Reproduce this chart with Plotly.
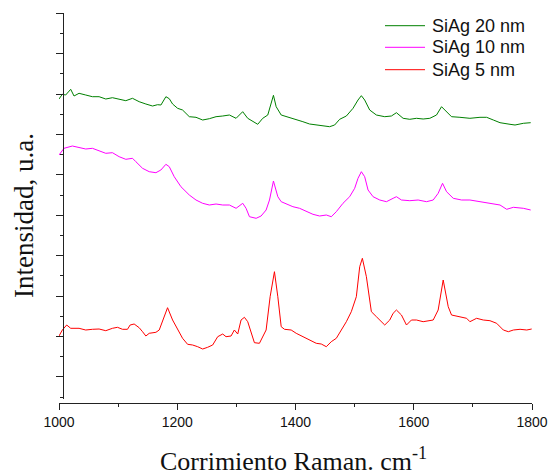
import plotly.graph_objects as go

# Raman shift (cm^-1) and intensity (a.u.)
x_20nm = [1000, 1005.6, 1011.3, 1015.8, 1019.8, 1025.4, 1033.9, 1045.2, 1056.5, 1067.8,
          1079.1, 1090.4, 1101.7, 1113, 1124.3, 1135.6, 1146.9, 1158.2, 1166.7, 1172.4,
          1180.8, 1186.5, 1192.1, 1200.6, 1209, 1220.4, 1231.7, 1243, 1254.3, 1265.6,
          1276.9, 1288.2, 1299.5, 1310.7, 1319.2, 1327.7, 1336.1, 1344.6, 1353.1, 1362.7,
          1367.3, 1375.8, 1389.9, 1401.2, 1412.5, 1423.8, 1435.1, 1446.4, 1457.7, 1466.2,
          1474.7, 1486, 1497.3, 1505.7, 1511.4, 1517, 1525.5, 1536.8, 1550.9, 1562.2,
          1570.7, 1582, 1593.3, 1604.6, 1615.9, 1627.2, 1638.5, 1647, 1655.5, 1663.9,
          1678.1, 1695, 1712, 1723.3, 1734.6, 1745.9, 1762.8, 1771.3, 1785.4, 1797.8]
y_20nm = [301, 305.7, 305, 308.3, 310.7, 304, 306.7, 305, 303.3, 303.3,
          301, 302.3, 301, 299.3, 301.7, 298.3, 296, 294, 295.3, 295,
          303.3, 301.3, 296, 291.7, 290, 283.3, 282.7, 280, 281.3, 283.3,
          284, 285, 281.7, 288.3, 281.7, 278.3, 275.7, 281.7, 285, 304.7,
          293.3, 285, 282.7, 280.7, 278.3, 276, 275, 274, 273.3, 275,
          280.7, 284, 291.7, 300, 304.3, 300, 290, 285, 283.3, 284,
          287.3, 281.7, 280.7, 281.7, 281, 281.7, 285, 293.3, 288.3, 283.3,
          282.7, 281.7, 282.7, 282.7, 280, 277.3, 275.7, 275, 276.7, 277.3]

x_10nm = [1000, 1008.5, 1022.6, 1033.9, 1045.2, 1056.5, 1067.8, 1079.1, 1090.4, 1101.7,
          1113, 1124.3, 1130, 1141.3, 1152.6, 1163.9, 1172.3, 1180.8, 1186.5, 1194.9,
          1206.2, 1220.4, 1231.7, 1243, 1254.3, 1265.6, 1276.9, 1288.2, 1299.5, 1305.1,
          1310.8, 1316.4, 1322.1, 1333.4, 1341.8, 1350.3, 1356, 1362.7, 1370.1, 1375.8,
          1384.3, 1395.6, 1406.9, 1418.2, 1429.5, 1440.8, 1452.1, 1460.5, 1469, 1480.3,
          1491.6, 1500.1, 1505.7, 1511.4, 1517, 1522.7, 1531.2, 1542.5, 1553.8, 1565.1,
          1570.7, 1579.2, 1593.3, 1607.4, 1621.6, 1632.9, 1641.3, 1648.7, 1655.5, 1666.8,
          1680.9, 1695, 1712, 1728.9, 1745.9, 1757.2, 1768.5, 1785.4, 1797.8]
y_10nm = [245, 251.7, 254, 252.7, 251, 251.7, 249.3, 246.7, 247.3, 243.3,
          240.7, 241.7, 238.3, 231.7, 228.3, 227.3, 230, 235.7, 233.3, 223.3,
          213.3, 205, 200, 196.7, 195, 196, 195, 195, 191.7, 194,
          196.7, 191.7, 183.3, 181.7, 184, 190, 200, 219, 203.3, 198.3,
          196, 193.3, 191.7, 188.3, 185.7, 184, 185, 183.3, 188.3, 196.7,
          203.3, 211.7, 221.7, 228.3, 223.3, 210, 203.3, 200, 198.3, 201.7,
          203.3, 200, 199.3, 200, 198.3, 200, 206.7, 216.7, 208.3, 201.7,
          200, 200, 198.3, 196.7, 195, 190.7, 192.7, 191.7, 190]

x_5nm = [1000, 1005.7, 1013, 1019.8, 1033.9, 1045.2, 1056.5, 1067.8, 1079.1, 1090.4,
         1098.9, 1107.4, 1115.8, 1120.3, 1127.1, 1135.6, 1141.3, 1146.9, 1152.6, 1163.9,
         1169.5, 1176.3, 1183.6, 1192.1, 1200.6, 1209, 1217.5, 1226, 1234.5, 1243,
         1251.4, 1259.9, 1268.4, 1276.9, 1282.5, 1291, 1296.6, 1302.3, 1307.9, 1313.6,
         1319.2, 1324.9, 1330.5, 1339, 1344.7, 1350.3, 1357.1, 1364.4, 1370.1, 1375.8,
         1381.4, 1392.7, 1401.2, 1412.5, 1423.8, 1435.1, 1443.6, 1452.1, 1460.5, 1469,
         1477.5, 1486, 1494.4, 1502.9, 1508.6, 1513.1, 1519.9, 1528.3, 1536.8, 1550.9,
         1559.4, 1565.1, 1570.7, 1579.2, 1587.7, 1596.1, 1604.6, 1615.9, 1632.9, 1641.3,
         1649.8, 1658.3, 1663.9, 1678.1, 1689.4, 1695, 1706.3, 1717.6, 1728.9, 1740.2,
         1751.5, 1760, 1768.5, 1779.8, 1791.1, 1799.5]
y_5nm = [64, 70, 75, 71.7, 71.7, 70, 70.7, 71, 69.3, 71.7,
         72.7, 70.7, 70.7, 75, 76, 72.3, 68.3, 64, 66.7, 67.7,
         70, 80, 92.3, 80, 70, 61.7, 55.7, 55, 53.3, 51,
         52.7, 55, 63.3, 66, 63.3, 64, 70, 66, 80, 82.7,
         78.3, 66.7, 57.3, 56.7, 62.7, 70, 103.3, 128.3, 103.3, 73.3,
         70.7, 70, 66.7, 63.3, 60, 56.7, 56, 53.3, 58.3, 61.7,
         70, 78.3, 88.3, 103.3, 133.3, 141.7, 123.3, 88.3, 83.3, 75,
         80, 86.7, 90, 85, 75, 80, 80, 78.3, 80, 90,
         120, 93.3, 85, 83.3, 81.7, 78.3, 81.7, 80, 79.3, 76.7,
         70, 68.3, 70, 70.7, 70, 71]

series_names = ["SiAg 20 nm", "SiAg 10 nm", "SiAg 5 nm"]
series_colors = ["#008000", "#FF00FF", "#FF0000"]
x_ticks = [1000, 1200, 1400, 1600, 1800]

x_range = [1000, 1800]
y_range = [1, 387]

W, H = 548, 475
ml, mr, mt, mb = 59, 16, 13, 72
pw = W - ml - mr
ph = H - mt - mb


def px_x(p):
    return (p - ml) / pw


def px_y(p):
    return (ph + mt - p) / ph


fig = go.Figure()
for name, xs, ys, col in zip(series_names,
                             [x_20nm, x_10nm, x_5nm],
                             [y_20nm, y_10nm, y_5nm],
                             series_colors):
    fig.add_trace(go.Scatter(x=xs, y=ys, mode="lines", name=name, showlegend=False,
                             line=dict(color=col, width=1)))

# legend drawn as key lines + labels (top right, inside the frame)
legend_rows = [25.7, 47.3, 69.7]
shapes = []
annotations = []
for name, col, ry in zip(series_names, series_colors, legend_rows):
    shapes.append(dict(type="line", xref="paper", yref="paper",
                       x0=px_x(385), x1=px_x(425), y0=px_y(ry), y1=px_y(ry),
                       line=dict(color=col, width=1)))
    annotations.append(dict(text=name, xref="paper", yref="paper",
                            x=px_x(430), y=px_y(ry), xanchor="left", yanchor="middle",
                            showarrow=False,
                            font=dict(family="Liberation Sans, Arial", size=18, color="#111")))

annotations += [
    dict(text="Corrimiento Raman. cm<sup>-1</sup>", xref="paper", yref="paper",
         x=px_x(293.5), y=px_y(460), xanchor="center", yanchor="middle",
         showarrow=False,
         font=dict(family="Liberation Serif, Times New Roman", size=26, color="#111")),
    dict(text="Intensidad, u.a.", xref="paper", yref="paper",
         x=px_x(24), y=px_y(216), xanchor="center", yanchor="middle",
         textangle=-90, showarrow=False,
         font=dict(family="Liberation Serif, Times New Roman", size=27, color="#111")),
]

axis_col = "#222222"
fig.update_layout(
    template="none",
    width=W, height=H,
    margin=dict(l=ml, r=mr, t=mt, b=mb, autoexpand=False),
    paper_bgcolor="white", plot_bgcolor="white",
    showlegend=False,
    xaxis=dict(range=x_range, anchor="free", position=0, automargin=False,
               showgrid=False, zeroline=False, showline=True,
               linecolor=axis_col, linewidth=1,
               tickmode="array", tickvals=x_ticks, ticktext=[str(v) for v in x_ticks],
               ticks="outside", ticklen=6, tickcolor=axis_col, tickwidth=1,
               minor=dict(dtick=100, tick0=1000, ticks="outside", ticklen=3,
                          tickcolor=axis_col, showgrid=False),
               tickfont=dict(family="Liberation Sans, Arial", size=14, color="#111")),
    yaxis=dict(range=y_range, domain=[4 / ph, 1], anchor="free", automargin=False,
               position=(63.3 - ml) / pw,
               showgrid=False, zeroline=False, showline=True,
               linecolor=axis_col, linewidth=1,
               tick0=386.7, dtick=40.4, ticks="outside", ticklen=7,
               tickcolor=axis_col, showticklabels=False,
               minor=dict(tick0=386.7, dtick=20.2, ticks="outside", ticklen=3,
                          tickcolor=axis_col, showgrid=False)),
    xaxis2=dict(range=x_range, overlaying="x", side="top", anchor="y", automargin=False,
                showgrid=False, zeroline=False, showline=True,
                linecolor=axis_col, linewidth=1,
                tick0=1000, dtick=100, ticks="outside", ticklen=3,
                tickcolor=axis_col, showticklabels=False),
    yaxis2=dict(range=y_range, overlaying="y", side="right", anchor="x", automargin=False,
                showgrid=False, zeroline=False, showline=True,
                linecolor=axis_col, linewidth=1,
                tick0=386.7, dtick=20.2, ticks="outside", ticklen=3,
                tickcolor=axis_col, showticklabels=False),
    shapes=shapes,
    annotations=annotations,
)

fig.write_html("out.html", config={"displayModeBar": False},
               post_script="document.body.style.margin='0';document.body.style.padding='0';")
